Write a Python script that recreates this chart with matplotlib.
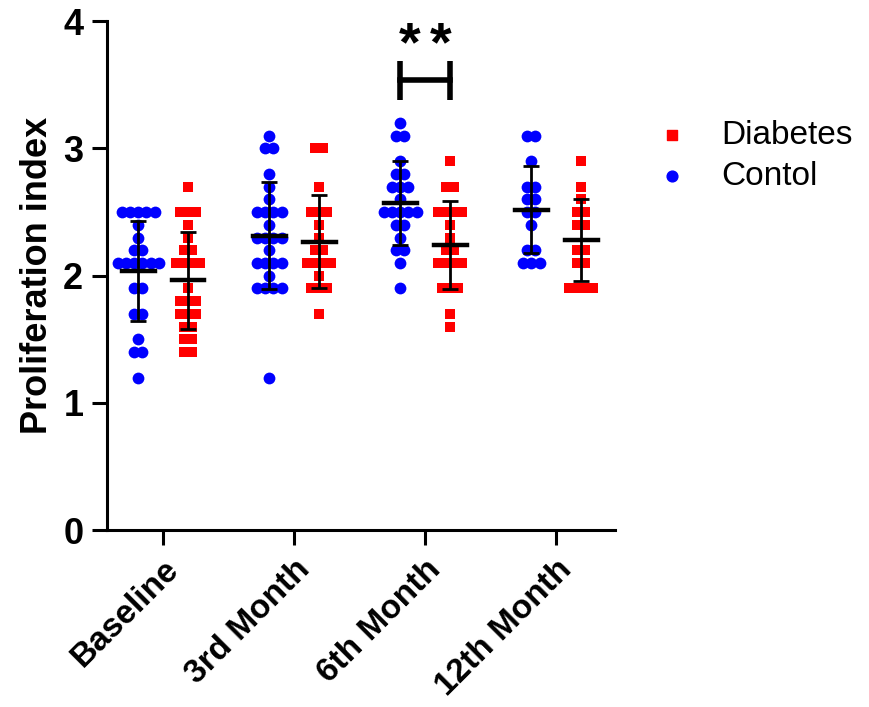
import numpy as np
import matplotlib
matplotlib.use("Agg")
import matplotlib.pyplot as plt

plt.rcParams['font.family'] = ['Liberation Sans', 'DejaVu Sans']

groups = ['Baseline', '3rd Month', '6th Month', '12th Month']

# values (one entry per point)
control = [
    [2.5, 2.5, 2.5, 2.5, 2.5, 2.4, 2.3, 2.2, 2.2, 2.1, 2.1, 2.1, 2.1, 2.1, 2.1,
     1.9, 1.9, 1.7, 1.7, 1.5, 1.4, 1.4, 1.2],
    [3.1, 3.0, 3.0, 2.8, 2.7, 2.6, 2.5, 2.5, 2.5, 2.5, 2.4, 2.3, 2.3, 2.3, 2.3,
     2.2, 2.1, 2.1, 2.1, 2.1, 2.0, 1.9, 1.9, 1.9, 1.9, 1.2],
    [3.2, 3.1, 3.1, 2.9, 2.8, 2.8, 2.7, 2.7, 2.7, 2.6, 2.5, 2.5, 2.5, 2.5, 2.5,
     2.4, 2.4, 2.3, 2.2, 2.2, 2.1, 1.9],
    [3.1, 3.1, 2.9, 2.7, 2.7, 2.6, 2.6, 2.5, 2.5, 2.4, 2.2, 2.2, 2.1, 2.1, 2.1],
]
diabetes = [
    [2.7, 2.5, 2.5, 2.5, 2.4, 2.3, 2.2, 2.2, 2.1, 2.1, 2.1, 2.1, 1.9, 1.8, 1.8,
     1.8, 1.7, 1.7, 1.7, 1.6, 1.6, 1.5, 1.5, 1.4, 1.4],
    [3.0, 3.0, 2.7, 2.5, 2.5, 2.5, 2.4, 2.3, 2.2, 2.2, 2.1, 2.1, 2.1, 2.1, 2.0,
     1.9, 1.9, 1.9, 1.7],
    [2.9, 2.7, 2.7, 2.5, 2.5, 2.5, 2.5, 2.4, 2.3, 2.2, 2.2, 2.1, 2.1, 2.1, 2.1,
     1.9, 1.9, 1.9, 1.7, 1.6],
    [2.9, 2.7, 2.6, 2.5, 2.5, 2.4, 2.4, 2.2, 2.2, 2.1, 2.1, 1.9, 1.9, 1.9, 1.9],
]

BLUE = '#0000FF'
RED = '#FF0000'
off = 0.19
step = 0.062


def spread(vals):
    # simple row-wise scatter spread like prism
    vals = np.array(vals)
    dx = np.zeros(len(vals))
    for v in np.unique(vals):
        idx = np.where(np.isclose(vals, v))[0]
        k = len(idx)
        dx[idx] = (np.arange(k) - (k - 1) / 2) * step
    return dx


fig = plt.figure(figsize=(8.69, 7.07), dpi=100)
ax = fig.add_axes([0.123, 0.25, 0.585, 0.72])

for i in range(len(groups)):
    for vals, sgn, col, mk, sz in [(control[i], -1, BLUE, 'o', 72),
                                    (diabetes[i], 1, RED, 's', 62)]:
        xc = i + sgn * off
        ax.scatter(xc + spread(vals), vals, s=sz, marker=mk, color=col,
                   linewidths=0, zorder=2, clip_on=False)
        m = np.mean(vals)
        sd = np.std(vals, ddof=1)
        ax.errorbar(xc, m, yerr=sd, fmt='none', ecolor='black', elinewidth=2,
                    capsize=6, capthick=2, zorder=3)
        ax.plot([xc - 0.125, xc + 0.125], [m, m], color='black', lw=3.2,
                zorder=3)

# significance bracket at 6th month
x1, x2 = 2 - off, 2 + off
ax.plot([x1, x1], [3.38, 3.69], color='black', lw=4, clip_on=False,
        solid_capstyle='butt')
ax.plot([x2, x2], [3.38, 3.69], color='black', lw=4, clip_on=False,
        solid_capstyle='butt')
ax.plot([x1, x2], [3.535, 3.535], color='black', lw=4, clip_on=False)
for sx in (2 - 0.12, 2 + 0.12):
    ax.text(sx, 3.6, '*', ha='center', va='bottom', fontsize=40,
            fontweight='bold')

# legend handles
ax.scatter([], [], s=50, marker='s', color=RED, label='Diabetes')
ax.scatter([], [], s=60, marker='o', color=BLUE, label='Contol')
ax.legend(loc='upper left', bbox_to_anchor=(1.052, 0.832), frameon=False,
          fontsize=24, handletextpad=1.0, labelspacing=0.3,
          borderaxespad=0, handlelength=1.0)

ax.set_xlim(-0.43, 3.45)
ax.set_ylim(0, 4)
ax.set_yticks([0, 1, 2, 3, 4])
ax.set_xticks(range(len(groups)))
ax.set_xticklabels(groups, rotation=45, ha='right', rotation_mode='anchor',
                   fontsize=24, fontweight='bold')
for lab in ax.get_yticklabels():
    lab.set_fontweight('bold')
    lab.set_fontsize(26)
ax.set_ylabel('Proliferation index', fontsize=26, fontweight='bold',
              labelpad=6)

ax.spines['top'].set_visible(False)
ax.spines['right'].set_visible(False)
ax.spines['left'].set_linewidth(2.2)
ax.spines['bottom'].set_linewidth(2.2)
ax.tick_params(axis='both', width=2.2, length=11, pad=6)

fig.savefig('out.png', dpi=100)
